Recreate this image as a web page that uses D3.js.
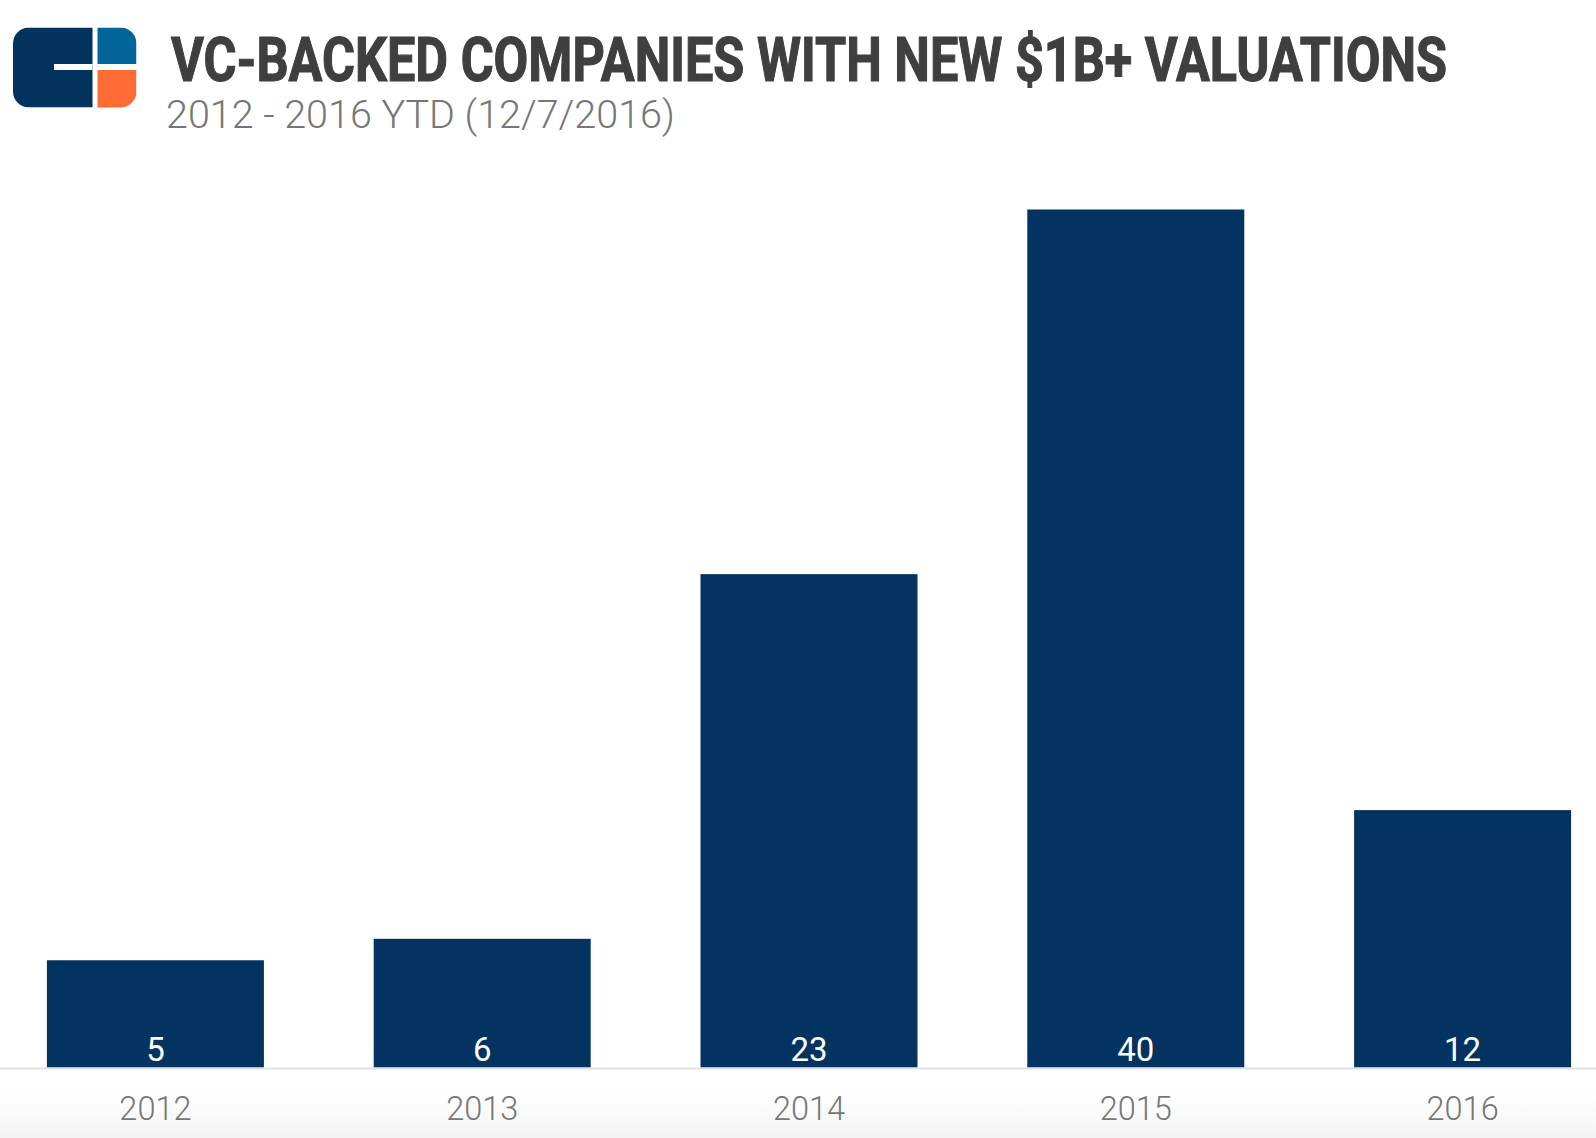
<!DOCTYPE html>
<html>
<head>
<meta charset="utf-8">
<script src="https://cdn.jsdelivr.net/npm/d3@7"></script>
<style>
  body { margin: 0; background: #fff; }
  svg { display: block; }
</style>
</head>
<body>
<div id="chart"></div>
<script>
var years = ["2012", "2013", "2014", "2015", "2016"];
var counts = [5, 6, 23, 40, 12];
var yMax = 40;

var titleText = "VC-BACKED COMPANIES WITH NEW $1B+ VALUATIONS";
var subtitleText = "2012 - 2016 YTD (12/7/2016)";

var width = 1596, height = 1138;
var barColor = "#023361";

var svg = d3.select("#chart").append("svg")
  .attr("width", width)
  .attr("height", height);

// faint shadow along the bottom
var defs = svg.append("defs");
var grad = defs.append("linearGradient")
  .attr("id", "bottomShade")
  .attr("x1", 0).attr("y1", 0).attr("x2", 0).attr("y2", 1);
grad.append("stop").attr("offset", "0%").attr("stop-color", "#ffffff");
grad.append("stop").attr("offset", "100%").attr("stop-color", "#f4f4f4");

svg.append("rect")
  .attr("x", 0).attr("y", 1090)
  .attr("width", width).attr("height", height - 1090)
  .attr("fill", "url(#bottomShade)");

// logo
defs.append("clipPath").attr("id", "logoClip")
  .append("rect")
  .attr("x", 13).attr("y", 27.5)
  .attr("width", 123.5).attr("height", 80)
  .attr("rx", 16).attr("ry", 16);

var logo = svg.append("g").attr("clip-path", "url(#logoClip)");
logo.append("rect").attr("x", 13).attr("y", 27.5).attr("width", 79.5).attr("height", 80).attr("fill", "#02335f");
logo.append("rect").attr("x", 97.5).attr("y", 27.5).attr("width", 39).attr("height", 36.5).attr("fill", "#03669a");
logo.append("rect").attr("x", 97.5).attr("y", 70).attr("width", 39).attr("height", 38).attr("fill", "#ff6a35");
logo.append("rect").attr("x", 54).attr("y", 64).attr("width", 38.5).attr("height", 6).attr("fill", "#ffffff");

// titles
svg.append("text")
  .attr("x", 171)
  .attr("y", 81)
  .attr("textLength", 1276)
  .attr("lengthAdjust", "spacingAndGlyphs")
  .style("font-family", "Roboto, 'Noto Sans', sans-serif")
  .style("font-weight", 700)
  .style("font-size", "62px")
  .style("fill", "#3f3f3f")
  .style("stroke", "#3f3f3f")
  .style("stroke-width", 1.2)
  .text(titleText);

svg.append("text")
  .attr("x", 166)
  .attr("y", 127.5)
  .style("font-family", "Roboto, 'Noto Sans', sans-serif")
  .style("font-weight", 300)
  .style("font-size", "39.5px")
  .style("fill", "#767676")
  .text(subtitleText);

// scales
var x = d3.scaleBand()
  .domain(years)
  .range([-8, 1626])
  .paddingInner(0.336)
  .paddingOuter(0.168);

var y = d3.scaleLinear()
  .domain([0, yMax])
  .range([1067.5, 209.5]);

var data = years.map(function(d, i) { return { year: d, value: counts[i] }; });

svg.selectAll(".bar")
  .data(data)
  .enter()
  .append("rect")
  .attr("class", "bar")
  .attr("x", function(d) { return x(d.year); })
  .attr("y", function(d) { return y(d.value); })
  .attr("width", x.bandwidth())
  .attr("height", function(d) { return y(0) - y(d.value); })
  .attr("fill", barColor);

// baseline
svg.append("line")
  .attr("x1", 0).attr("x2", width)
  .attr("y1", y(0) + 1).attr("y2", y(0) + 1)
  .attr("stroke", "#e2e2e2")
  .attr("stroke-width", 2);

// value labels
svg.selectAll(".val")
  .data(data)
  .enter()
  .append("text")
  .attr("class", "val")
  .attr("x", function(d) { return x(d.year) + x.bandwidth() / 2; })
  .attr("y", 1061)
  .attr("text-anchor", "middle")
  .style("font-family", "Roboto, 'Noto Sans', sans-serif")
  .style("font-size", "33px")
  .style("fill", "#ffffff")
  .text(function(d) { return d.value; });

// x axis
var xAxis = svg.append("g")
  .attr("transform", "translate(0," + (y(0) + 2) + ")")
  .call(d3.axisBottom(x).tickSize(0).tickPadding(27));
xAxis.select(".domain").remove();
xAxis.selectAll("text")
  .attr("dy", "0.71em")
  .style("font-family", "Roboto, 'Noto Sans', sans-serif")
  .style("font-weight", 300)
  .style("font-size", "32.5px")
  .style("fill", "#767676");
</script>
</body>
</html>
